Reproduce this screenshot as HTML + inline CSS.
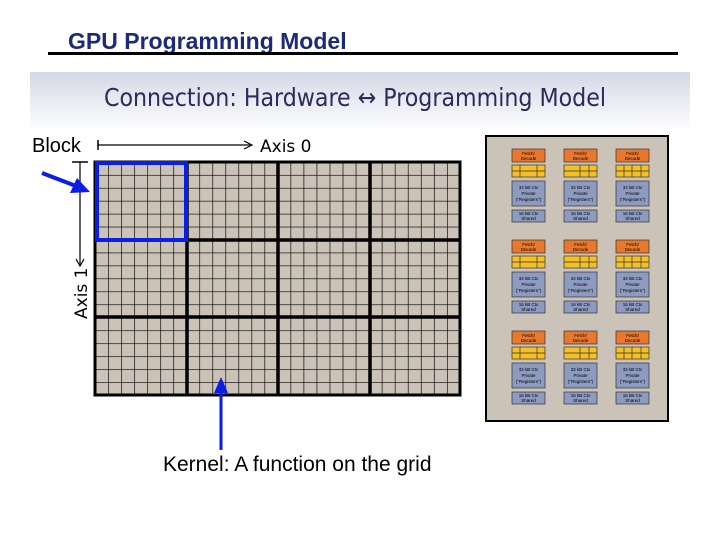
<!DOCTYPE html>
<html><head><meta charset="utf-8"><style>
body{margin:0;width:720px;height:540px;background:#fff;overflow:hidden}
svg{display:block}
</style></head><body>
<svg width="720" height="540" viewBox="0 0 720 540" xmlns="http://www.w3.org/2000/svg" font-family="Liberation Sans, sans-serif">
<defs>
<linearGradient id="hb" x1="0" y1="0" x2="0" y2="1">
<stop offset="0" stop-color="#d5d8e6"/><stop offset="1" stop-color="#ffffff"/>
</linearGradient>
<pattern id="cells" x="95" y="162" width="13.036" height="12.944" patternUnits="userSpaceOnUse">
<path d="M0 0H13.036M0 0V12.944" stroke="#000" stroke-width="1.3" fill="none"/>
</pattern>
</defs>
<text x="68" y="49" font-size="23" font-weight="bold" fill="#1c2a7a">GPU Programming Model</text>
<rect x="48" y="52" width="630" height="3" fill="#000"/>
<rect x="30" y="72" width="660" height="60" fill="url(#hb)"/>
<text x="104" y="106" font-size="25" fill="#2c2c5a" textLength="502" lengthAdjust="spacingAndGlyphs" font-family="DejaVu Sans Condensed, DejaVu Sans, sans-serif">Connection: Hardware ↔ Programming Model</text>
<!-- grid -->
<rect x="95" y="162" width="365" height="233" fill="#cbc3b7"/>
<rect x="95" y="162" width="365" height="233" fill="url(#cells)"/>
<g stroke="#000" stroke-width="3.5">
<line x1="187" y1="162" x2="187" y2="395"/><line x1="278" y1="162" x2="278" y2="395"/><line x1="370" y1="162" x2="370" y2="395"/>
<line x1="95" y1="240" x2="460" y2="240"/><line x1="95" y1="317" x2="460" y2="317"/>
</g>
<rect x="95" y="162" width="365" height="233" fill="none" stroke="#000" stroke-width="3"/>
<rect x="97" y="163" width="89" height="77" fill="none" stroke="#0a1ee6" stroke-width="4"/>
<!-- Block label/axis -->
<text x="32" y="152" font-size="20" fill="#000">Block</text>
<line x1="98" y1="140" x2="98" y2="150" stroke="#000" stroke-width="1.5"/>
<line x1="98" y1="145" x2="250" y2="145" stroke="#000" stroke-width="1.2"/>
<path d="M244 141 L252 145 L244 149" fill="none" stroke="#000" stroke-width="1.2"/>
<text x="260" y="152" font-size="17" fill="#000" font-family="DejaVu Sans, sans-serif">Axis 0</text>
<line x1="72" y1="162" x2="88" y2="162" stroke="#000" stroke-width="1.5"/>
<line x1="80" y1="162" x2="80" y2="265" stroke="#000" stroke-width="1.2"/>
<path d="M76 259 L80 266 L84 259" fill="none" stroke="#000" stroke-width="1.2"/>
<text transform="translate(87,319) rotate(-90)" font-size="17" fill="#000" font-family="DejaVu Sans, sans-serif">Axis 1</text>
<!-- blue arrows -->
<line x1="42" y1="173" x2="76" y2="186" stroke="#0a1ee6" stroke-width="4"/>
<path d="M90 192 L70 193 L77 178 Z" fill="#0a1ee6"/>
<line x1="221" y1="450" x2="221" y2="390" stroke="#0a1ee6" stroke-width="3"/>
<path d="M221 377 L214 393 L228 393 Z" fill="#0a1ee6"/>
<text x="163" y="471" font-size="21" fill="#000">Kernel: A function on the grid</text>
<!-- hardware panel -->
<rect x="486" y="136" width="182" height="285" fill="#cbc3b7" stroke="#000" stroke-width="2"/>
<g id="grp">
<g font-size="4.5" text-anchor="middle" fill="#000">
<!-- col template repeated -->
<rect x="512" y="149" width="33" height="13" fill="#e8782e" stroke="#333" stroke-width="0.7"/><text x="528.5" y="155">Fetch/</text><text x="528.5" y="160">Decode</text>
<rect x="512" y="165" width="33" height="12" fill="#f5bf26" stroke="#333" stroke-width="0.7"/><path d="M512 171H545M520 165V177M537 165V177" stroke="#333" stroke-width="0.7"/>
<rect x="512" y="181" width="33" height="25" fill="#8d9bc0" stroke="#333" stroke-width="0.7"/><text x="528.5" y="189">32 kB Ctx</text><text x="528.5" y="195">Private</text><text x="528.5" y="201">("Registers")</text>
<rect x="512" y="210" width="33" height="12" fill="#8d9bc0" stroke="#333" stroke-width="0.7"/><text x="528.5" y="215">16 kB Ctx</text><text x="528.5" y="220">Shared</text>

<rect x="564" y="149" width="33" height="13" fill="#e8782e" stroke="#333" stroke-width="0.7"/><text x="580.5" y="155">Fetch/</text><text x="580.5" y="160">Decode</text>
<rect x="564" y="165" width="33" height="12" fill="#f5bf26" stroke="#333" stroke-width="0.7"/><path d="M564 171H597M580 165V177M589 165V177" stroke="#333" stroke-width="0.7"/>
<rect x="564" y="181" width="33" height="25" fill="#8d9bc0" stroke="#333" stroke-width="0.7"/><text x="580.5" y="189">32 kB Ctx</text><text x="580.5" y="195">Private</text><text x="580.5" y="201">("Registers")</text>
<rect x="564" y="210" width="33" height="12" fill="#8d9bc0" stroke="#333" stroke-width="0.7"/><text x="580.5" y="215">16 kB Ctx</text><text x="580.5" y="220">Shared</text>

<rect x="616" y="149" width="33" height="13" fill="#e8782e" stroke="#333" stroke-width="0.7"/><text x="632.5" y="155">Fetch/</text><text x="632.5" y="160">Decode</text>
<rect x="616" y="165" width="33" height="12" fill="#f5bf26" stroke="#333" stroke-width="0.7"/><path d="M616 171H649M624 165V177M632 165V177M641 165V177" stroke="#333" stroke-width="0.7"/>
<rect x="616" y="181" width="33" height="25" fill="#8d9bc0" stroke="#333" stroke-width="0.7"/><text x="632.5" y="189">32 kB Ctx</text><text x="632.5" y="195">Private</text><text x="632.5" y="201">("Registers")</text>
<rect x="616" y="210" width="33" height="12" fill="#8d9bc0" stroke="#333" stroke-width="0.7"/><text x="632.5" y="215">16 kB Ctx</text><text x="632.5" y="220">Shared</text>
</g>
</g>
<use href="#grp" y="91"/>
<use href="#grp" y="182"/>
</svg>
</body></html>
